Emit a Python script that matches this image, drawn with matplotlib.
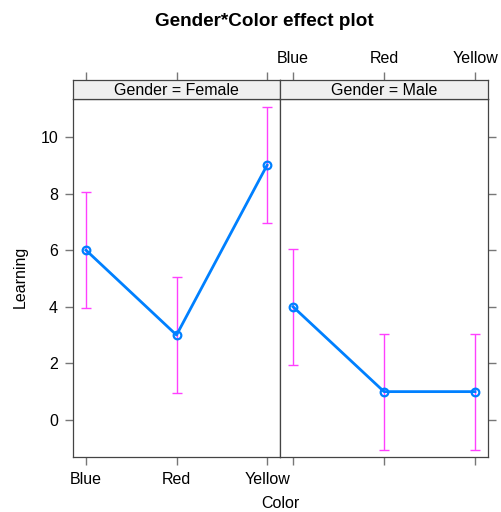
import numpy as np
import matplotlib
matplotlib.use('Agg')
import matplotlib.pyplot as plt

plt.rcParams['font.family'] = ['Liberation Sans', 'DejaVu Sans']

colors = ['Blue', 'Red', 'Yellow']
panels = ['Gender = Female', 'Gender = Male']
fit = [[6, 3, 9], [4, 1, 1]]
lower = [[3.95, 0.95, 6.95], [1.95, -1.05, -1.05]]
upper = [[8.05, 5.05, 11.05], [6.05, 3.05, 3.05]]
yticks = [0, 2, 4, 6, 8, 10]

W, H = 501, 512
fig = plt.figure(figsize=(W / 100, H / 100), dpi=100)

def box(x0, y0, x1, y1):
    # pixel box (top-left origin) -> figure fraction
    return [x0 / W, 1 - y1 / H, (x1 - x0) / W, (y1 - y0) / H]

frame = '#444444'
tickc = '#777777'
fs = 11.5
xlim = (0.857, 3.143)
ylim = (-1.31, 11.34)
xs = np.arange(1, len(colors) + 1)

edges = [(73, 280), (280, 488)]
for i, (x0, x1) in enumerate(edges):
    ax = fig.add_axes(box(x0, 99, x1, 457))
    st = fig.add_axes(box(x0, 80, x1, 99))

    lo = np.array(fit[i]) - np.array(lower[i])
    hi = np.array(upper[i]) - np.array(fit[i])
    ax.errorbar(xs, fit[i], yerr=[lo, hi], fmt='none', ecolor='#ff40ff',
                elinewidth=1.0, capsize=3.6, capthick=1.0, zorder=2)
    ax.plot(xs, fit[i], color='#0080ff', lw=2, zorder=3)
    ax.plot(xs, fit[i], 'o', mfc='none', mec='#0080ff', mew=1.6, ms=5.5, zorder=4)

    ax.set_xlim(*xlim)
    ax.set_ylim(*ylim)
    ax.set_xticks(xs)
    ax.set_yticks(yticks)
    for s in ax.spines.values():
        s.set_color(frame)
        s.set_linewidth(0.9)
    ax.tick_params(colors=tickc, labelcolor='black', length=5.8, width=1.0,
                   labelsize=fs, pad=5)
    if i == 0:
        ax.set_xticklabels(colors)
        ax.tick_params(axis='y', left=True, right=False, labelleft=True)
    else:
        ax.set_xticklabels([])
        ax.tick_params(axis='y', left=False, right=True, labelleft=False,
                       labelright=False)

    # strip
    st.set_facecolor('#f0f0f0')
    st.set_xlim(*xlim)
    st.set_ylim(0, 1)
    st.set_yticks([])
    st.set_xticks(xs)
    st.xaxis.set_ticks_position('top')
    st.tick_params(axis='x', colors=tickc, labelcolor='black', length=5.8,
                   width=1.0, labelsize=fs, pad=4)
    if i == 1:
        st.set_xticklabels(colors)
    else:
        st.set_xticklabels([])
    for s in st.spines.values():
        s.set_color(frame)
        s.set_linewidth(0.9)
    st.text(0.5, 0.45, panels[i], transform=st.transAxes, ha='center',
            va='center', fontsize=fs)

fig.text(264 / W, 1 - 22 / H, 'Gender*Color effect plot', ha='center',
         va='center', fontsize=13.6, fontweight='bold')
fig.text(20 / W, 1 - 277 / H, 'Learning', rotation=90, ha='center',
         va='center', fontsize=fs)
fig.text(280 / W, 1 - 503 / H, 'Color', ha='center', va='center', fontsize=fs)

fig.savefig('out.png', dpi=100)
